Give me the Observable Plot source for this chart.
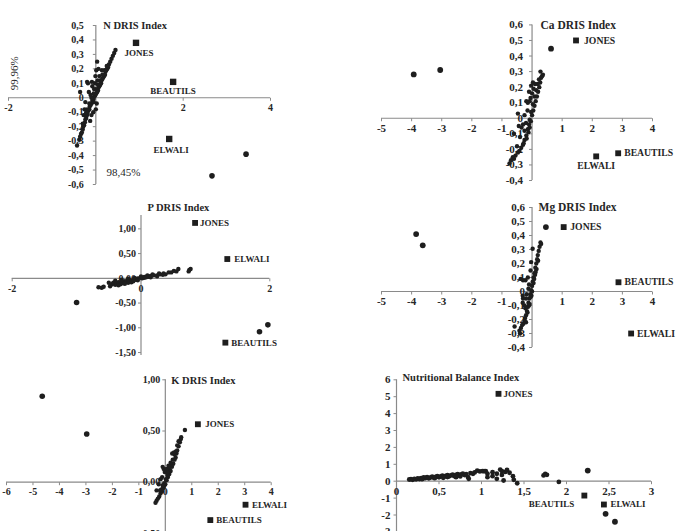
<!DOCTYPE html>
<html><head><meta charset="utf-8">
<script src="https://cdn.jsdelivr.net/npm/d3@7"></script>
<script src="https://cdn.jsdelivr.net/npm/@observablehq/plot@0.6"></script>
<style>
body{margin:0;background:#fff}
#chart{position:relative;width:682px;height:531px;overflow:hidden;background:#fff}
</style>
</head><body><div id="chart"></div>
<script>
// ---------- DATA ----------
const methods = ["JONES", "BEAUTILS", "ELWALI"];

// N DRIS Index
const nXTicks = [-2, 2, 4];
const nYTicks = [0.5, 0.4, 0.3, 0.2, 0.1, 0, -0.1, -0.2, -0.3, -0.4, -0.5, -0.6];
const nMethodX = [0.92, 1.77, 1.68];
const nMethodY = [0.38, 0.11, -0.285];
const nOutliers = [[2.66, -0.54], [3.44, -0.39]];
const nPoints = [[-0.43,-0.33],[-0.38,-0.29],[-0.36,-0.27],[-0.34,-0.25],[-0.32,-0.24],[-0.30,-0.22],[-0.29,-0.20],[-0.27,-0.19],[-0.25,-0.17],[-0.24,-0.15],[-0.22,-0.14],[-0.20,-0.12],[-0.19,-0.11],[-0.17,-0.09],[-0.15,-0.08],[-0.14,-0.06],[-0.12,-0.05],[-0.10,-0.04],[-0.08,-0.02],[-0.06,-0.01],[-0.05,0.00],[-0.03,0.01],[-0.01,0.02],[0.01,0.03],[0.03,0.04],[0.05,0.05],[0.06,0.07],[0.08,0.08],[0.10,0.09],[0.12,0.10],[0.13,0.12],[0.15,0.13],[0.17,0.14],[0.19,0.15],[0.21,0.16],[0.22,0.18],[0.24,0.19],[0.26,0.20],[0.28,0.21],[0.30,0.23],[0.33,0.25],[0.36,0.27],[0.39,0.29],[0.42,0.31],[0.45,0.33],
[-0.20,-0.08],[-0.15,-0.04],[-0.10,0.00],[-0.05,0.03],[0.00,0.06],[0.05,0.09],[0.10,0.12],[0.15,0.16],[0.20,0.19],[0.25,0.22],[-0.25,-0.12],[-0.30,-0.18],
[0.03,0.25],[-0.20,0.11],[-0.09,0.11],[0.01,0.19],[0.14,0.19],[-0.36,0.04],[-0.16,0.04],[-0.24,-0.03],[-0.26,-0.08],[-0.05,-0.03],[-0.13,-0.16],[-0.18,0.10],[-0.12,0.02],[-0.22,-0.10],[-0.04,0.06],[0.06,0.20],[-0.01,0.15],[0.02,-0.04],[0.00,-0.08],[-0.06,-0.10],[-0.28,-0.12],[-0.10,-0.12],[0.08,0.15],[-0.08,0.08],[-0.02,0.10],[0.04,0.12]];
const nNotes = ["99,96%", "98,45%"];
const nNoteX = [-1.87, 0.63];
const nNoteY = [0.17, -0.52];

// Ca DRIS Index
const caXTicks = [-5, -4, -3, -2, -1, 1, 2, 3, 4];
const caYTicks = [0.6, 0.5, 0.4, 0.3, 0.2, 0.1, 0, -0.1, -0.2, -0.3, -0.4];
const caMethodX = [1.46, 2.86, 2.13];
const caMethodY = [0.50, -0.225, -0.245];
const caOutliers = [[-3.93, 0.282], [-3.05, 0.31], [0.63, 0.447]];
const caPoints = [[0.28,0.30],[0.36,0.28],[0.33,0.27],[0.30,0.26],[0.23,0.25],[0.27,0.23],[0.19,0.22],[0.24,0.20],[0.14,0.18],[0.20,0.17],[0.08,0.14],[0.16,0.14],[0.12,0.11],[0.03,0.09],[0.08,0.08],[0.04,0.05],[-0.03,0.04],[0.00,0.02],[-0.08,-0.01],[-0.04,-0.02],[-0.10,-0.04],[-0.14,-0.07],[-0.08,-0.06],[-0.19,-0.11],[-0.12,-0.09],[-0.25,-0.14],[-0.18,-0.13],[-0.30,-0.17],[-0.36,-0.19],[-0.28,-0.16],[-0.42,-0.21],[-0.47,-0.22],[-0.55,-0.24],[-0.64,-0.25],[-0.70,-0.27],[-0.75,-0.29],[-0.60,-0.26],
[-0.03,0.21],[0.03,0.23],[-0.08,0.11],[-0.19,0.11],[-0.14,0.10],[-0.25,0.02],[-0.47,0.03],[-0.60,-0.10],[-0.44,-0.05],[-0.35,-0.06],[-0.30,-0.04],[-0.20,-0.03],[-0.15,0.05],[-0.05,0.13],[0.00,0.16],[-0.10,0.17],[-0.40,-0.12],[-0.50,-0.18],[-0.25,-0.08],[0.05,0.19],[0.10,0.22]];

// P DRIS Index
const pXTicks = [-2, 0, 2];
const pYTicks = [1, 0.5, 0, -0.5, -1, -1.5];
const pMethodX = [0.84, 1.31, 1.34];
const pMethodY = [1.12, -1.30, 0.39];
const pOutliers = [[-1.0, -0.49], [1.84, -1.08], [1.97, -0.94]];
const pPoints = [[-0.66,-0.18],[-0.61,-0.19],[-0.58,-0.17],[-0.50,-0.09],[-0.48,-0.16],[-0.45,-0.12],[-0.43,-0.09],[-0.40,-0.13],[-0.38,-0.10],[-0.35,-0.08],[-0.32,-0.12],[-0.30,-0.07],[-0.28,-0.10],[-0.25,-0.06],[-0.22,-0.06],[-0.20,-0.09],[-0.18,-0.04],[-0.15,-0.05],[-0.11,-0.02],[-0.08,-0.03],[-0.05,0.00],[-0.01,0.01],[0.02,0.00],[0.05,0.03],[0.09,0.04],[0.12,0.03],[0.15,0.05],[0.20,0.06],[0.25,0.06],[0.30,0.08],[0.34,0.07],[0.38,0.08],[0.43,0.12],[0.47,0.12],[0.51,0.15],[0.55,0.14],[0.58,0.19],[0.74,0.14],[0.77,0.19],[0.75,0.17],
[-0.40,-0.05],[-0.30,-0.03],[-0.20,-0.01],[-0.10,0.01],[0.00,0.04],[0.10,0.06],[-0.35,-0.14],[-0.25,-0.11],[-0.15,-0.08],[-0.05,-0.04],[0.05,0.01],[0.15,0.02],[0.25,0.04],[-0.12,-0.06],[0.08,0.02],[0.18,0.08],[0.28,0.10],[0.35,0.10]];

// Mg DRIS Index
const mgXTicks = [-5, -4, -3, -2, -1, 1, 2, 3, 4];
const mgYTicks = [0.6, 0.5, 0.4, 0.3, 0.2, 0.1, 0, -0.1, -0.2, -0.3, -0.4];
const mgMethodX = [1.05, 2.87, 3.29];
const mgMethodY = [0.46, 0.066, -0.30];
const mgOutliers = [[-3.85, 0.41], [-3.63, 0.33], [0.46, 0.46]];
const mgPoints = [[0.30,0.34],[0.28,0.35],[0.25,0.32],[0.22,0.29],[0.19,0.26],[0.17,0.23],[0.14,0.20],[0.11,0.17],[0.08,0.13],[0.05,0.10],[0.02,0.07],[0.00,0.04],[-0.03,0.01],[-0.06,-0.02],[-0.09,-0.05],[-0.12,-0.08],[-0.14,-0.11],[-0.17,-0.14],[-0.20,-0.17],[-0.23,-0.19],[-0.25,-0.21],[-0.29,-0.23],[-0.33,-0.24],[-0.37,-0.26],[-0.42,-0.28],[-0.40,-0.30],
[0.20,0.22],[0.15,0.16],[0.10,0.12],[0.05,0.06],[0.00,0.00],[-0.05,-0.04],[-0.10,-0.10],[-0.15,-0.15],[0.12,0.14],[0.07,0.09],[-0.02,-0.03],[-0.08,-0.09],[-0.20,-0.22],
[0.02,0.305],[-0.03,0.21],[-0.14,0.10],[-0.22,0.08],[-0.31,-0.03],[-0.31,-0.08],[-0.58,-0.25],[-0.30,-0.05],[-0.20,-0.05],[-0.25,-0.10],[-0.10,0.05],[-0.05,0.15],[-0.18,-0.02],[-0.12,0.02],[-0.22,-0.12],[-0.38,0.09],[-0.30,0.08]];

// K DRIS Index
const kXTicks = [-6, -5, -4, -3, -2, -1, 0, 1, 2, 3, 4];
const kYTicks = [1, 0.5, 0, -0.5];
const kMethodX = [1.23, 1.70, 3.03];
const kMethodY = [0.566, -0.37, -0.22];
const kOutliers = [[-4.65, 0.84], [-2.97, 0.47]];
const kPoints = [[0.74,0.51],[0.60,0.44],[0.58,0.42],[0.55,0.39],[0.50,0.35],[0.45,0.31],[0.42,0.28],[0.39,0.24],[0.35,0.22],[0.30,0.18],[0.25,0.15],[0.20,0.11],[0.15,0.08],[0.10,0.05],[0.05,0.02],[0.00,-0.02],[-0.05,-0.04],[-0.09,-0.06],[-0.13,-0.09],[-0.18,-0.11],[-0.23,-0.14],[-0.28,-0.16],[-0.33,-0.18],[-0.37,-0.20],
[0.50,0.40],[0.40,0.30],[0.35,0.27],[0.28,0.22],[0.22,0.16],[0.15,0.12],[0.08,0.07],[0.02,0.03],[-0.04,-0.01],[-0.10,-0.03],[-0.15,-0.07],[0.45,0.36],[0.20,0.19],[0.10,0.10],[-0.20,-0.08],
[-0.06,0.13],[-0.18,0.03],[-0.12,0.05],[-0.33,-0.08],[0.26,0.28],[0.33,0.29],[0.15,0.14],[-0.10,0.15],[0.05,0.13],[-0.02,0.10],[-0.25,-0.02],[0.12,0.16]];

// Nutritional Balance Index
const nbiXTicks = [0, 0.5, 1, 1.5, 2, 2.5, 3];
const nbiYTicks = [6, 5, 4, 3, 2, 1, 0, -1, -2, -3];
const nbiMethodX = [1.20, 2.21, 2.44];
const nbiMethodY = [5.17, -0.85, -1.38];
const nbiOutliers = [[2.25, 0.63], [2.46, -1.93], [2.57, -2.40]];
const nbiPoints = [[0.15,0.10],[0.17,0.12],[0.19,0.08],[0.21,0.14],[0.23,0.11],[0.25,0.16],[0.27,0.13],[0.29,0.18],[0.31,0.15],[0.32,0.22],[0.34,0.19],[0.36,0.24],[0.38,0.17],[0.40,0.22],[0.42,0.27],[0.44,0.20],[0.46,0.25],[0.48,0.30],[0.50,0.23],[0.52,0.28],[0.54,0.33],[0.56,0.26],[0.58,0.31],[0.60,0.36],[0.62,0.29],[0.64,0.34],[0.66,0.39],[0.68,0.30],[0.70,0.37],[0.72,0.42],[0.74,0.33],[0.76,0.40],[0.78,0.45],[0.80,0.36],[0.82,0.42],[0.84,0.25],[0.85,0.14],[0.87,0.48],[0.90,0.44],[0.92,0.52],[0.95,0.63],[0.98,0.58],[1.01,0.60],[1.03,0.59],[1.05,0.60],[1.07,0.44],[1.07,0.24],[1.13,0.53],[1.13,0.30],[1.18,0.14],[1.18,0.44],[1.22,0.69],[1.24,0.60],[1.24,0.37],[1.26,0.04],[1.28,0.55],[1.30,0.67],[1.33,0.50],[1.37,0.30],[1.38,0.08],[1.42,-0.12],[1.73,0.34],[1.75,0.43],[1.77,0.38],[1.91,-0.04],
[0.30,0.12],[0.45,0.18],[0.60,0.25],[0.75,0.28],[0.55,0.20],[0.70,0.24]];

// ---------- RENDER ----------
const fmt1 = d => d === 0 ? "0" : d.toFixed(1).replace(".", ",");
const fmt2 = d => d.toFixed(2).replace(".", ",");
const fmtG = d => String(d).replace(".", ",");
const SERIF = "'Liberation Serif', 'Times New Roman', serif";
const AXIS = "#8a8a8a", INK = "#1e1e1e", TXT = "#262626";
const tickLeft = {draw(ctx) { ctx.moveTo(0, 0); ctx.lineTo(-3, 0); }};
const tickDown = {draw(ctx) { ctx.moveTo(0, 0); ctx.lineTo(0, 3); }};

const panels = [
  {title: "N DRIS Index", pts: nPoints, out: nOutliers, mx: nMethodX, my: nMethodY,
   xDomain: [-2, 4], xRange: [8, 270], yDomain: [-0.6, 0.5], yRange: [184, 25],
   xTicks: nXTicks, yTicks: nYTicks, xFmt: fmtG, yFmt: fmt1, fs: 10, lfs: 9, tfs: 10.5, gap: 12,
   tdx: 7.5, tdy: 0, r: 2.2, ro: 2.8, sq: 3.6,
   lab: {JONES: [3, 10, "middle"], BEAUTILS: [0, 9, "middle"], ELWALI: [2, 11, "middle"]}},
  {title: "Ca DRIS Index", pts: caPoints, out: caOutliers, mx: caMethodX, my: caMethodY,
   xDomain: [-5, 4], xRange: [381, 652], yDomain: [-0.4, 0.6], yRange: [180, 24.4],
   xTicks: caXTicks, yTicks: caYTicks, xFmt: fmtG, yFmt: fmt1, fs: 11, lfs: 9.7, tfs: 11.5, gap: 9,
   tdx: 8.5, tdy: 0, r: 2.2, ro: 2.9, sq: 3.3,
   lab: {JONES: [8, 0, "start"], BEAUTILS: [6, 0, "start"], ELWALI: [0, 10, "middle"]}},
  {title: "P DRIS Index", pts: pPoints, out: pOutliers, mx: pMethodX, my: pMethodY,
   xDomain: [-2, 2], xRange: [11.7, 269.3], yDomain: [-1.56, 1.27], yRange: [355, 215],
   xTicks: pXTicks, yTicks: pYTicks, xFmt: fmtG, yFmt: fmt2, fs: 10, lfs: 9, tfs: 10.5, gap: 5,
   tdx: 6.5, tdy: -8, r: 2.2, ro: 2.8, sq: 3.3,
   lab: {JONES: [5, 0, "start"], BEAUTILS: [6, 0, "start"], ELWALI: [7, 0, "start"]}},
  {title: "Mg DRIS Index", pts: mgPoints, out: mgOutliers, mx: mgMethodX, my: mgMethodY,
   xDomain: [-5, 4], xRange: [381, 652], yDomain: [-0.4, 0.6], yRange: [347, 207],
   xTicks: mgXTicks, yTicks: mgYTicks, xFmt: fmtG, yFmt: fmt1, fs: 11, lfs: 9.7, tfs: 11.5, gap: 7,
   tdx: 6.5, tdy: 0, r: 2.2, ro: 2.9, sq: 3.3,
   lab: {JONES: [6.6, 0, "start"], BEAUTILS: [6, 0, "start"], ELWALI: [6, 0, "start"]}},
  {title: "K DRIS Index", pts: kPoints, out: kOutliers, mx: kMethodX, my: kMethodY,
   xDomain: [-6, 4], xRange: [6, 270.7], yDomain: [-0.5, 1], yRange: [532.9, 379.3],
   xTicks: kXTicks, yTicks: kYTicks, xFmt: fmtG, yFmt: fmt2, fs: 10, lfs: 9, tfs: 10.5, gap: 5,
   tdx: 6, tdy: 1, r: 2.2, ro: 2.8, sq: 3.3,
   lab: {JONES: [7.3, 0, "start"], BEAUTILS: [6, 0, "start"], ELWALI: [6.4, 0, "start"]}},
  {title: "Nutritional Balance Index", pts: nbiPoints, out: nbiOutliers, mx: nbiMethodX, my: nbiMethodY,
   xDomain: [0, 3], xRange: [396, 651], yDomain: [-3, 6], yRange: [531.4, 379.3],
   xTicks: nbiXTicks, yTicks: nbiYTicks, xFmt: fmtG, yFmt: fmtG, fs: 11, lfs: 9, tfs: 10.5, gap: 6,
   tdx: 6, tdy: -2, r: 2.4, ro: 2.9, sq: 3.3,
   lab: {JONES: [5, 0, "start"], BEAUTILS: [-10, 9, "end"], ELWALI: [6.5, 0, "start"]}}
];

const chart = document.getElementById("chart");

panels.forEach((p, i) => {
  const marks = [
    Plot.ruleY([0], {x1: p.xDomain[0], x2: p.xDomain[1], stroke: AXIS, strokeWidth: 1.2}),
    Plot.ruleX([0], {y1: p.yDomain[0], y2: p.yDomain[1], stroke: AXIS, strokeWidth: 1.2}),
    Plot.dot(p.yTicks, {x: 0, y: d => d, symbol: tickLeft, stroke: AXIS, fill: "none", strokeWidth: 1}),
    Plot.dot(p.xTicks, {x: d => d, y: 0, symbol: tickDown, stroke: AXIS, fill: "none", strokeWidth: 1}),
    Plot.text(p.yTicks, {x: 0, y: d => d, text: p.yFmt, textAnchor: "end", dx: -p.gap,
      fontFamily: SERIF, fontWeight: "bold", fontSize: p.fs, fill: TXT}),
    Plot.text(p.xTicks, {x: d => d, y: 0, text: p.xFmt, dy: 10,
      fontFamily: SERIF, fontWeight: "bold", fontSize: p.fs, fill: TXT}),
    Plot.text([p.title], {x: 0, y: p.yDomain[1], text: d => d, textAnchor: "start", dx: p.tdx, dy: p.tdy,
      fontFamily: SERIF, fontWeight: "bold", fontSize: p.tfs, fill: TXT}),
    Plot.dot(p.pts, {x: d => d[0], y: d => d[1], r: p.r, fill: INK}),
    Plot.dot(p.out, {x: d => d[0], y: d => d[1], r: p.ro, fill: INK}),
    Plot.dot(methods, {x: (d, j) => p.mx[j], y: (d, j) => p.my[j], symbol: "square", r: p.sq, fill: INK})
  ];
  methods.forEach((m, j) => {
    const [dx, dy, anchor] = p.lab[m];
    marks.push(Plot.text([m], {x: p.mx[j], y: p.my[j], text: d => d, dx, dy, textAnchor: anchor,
      fontFamily: SERIF, fontWeight: "bold", fontSize: p.lfs, fill: TXT}));
  });
  if (i === 0) {
    marks.push(Plot.text([nNotes[0]], {x: nNoteX[0], y: nNoteY[0], text: d => d, rotate: -90,
      fontFamily: SERIF, fontSize: 11, fill: TXT}));
    marks.push(Plot.text([nNotes[1]], {x: nNoteX[1], y: nNoteY[1], text: d => d,
      fontFamily: SERIF, fontSize: 11, fill: TXT}));
  }
  const svg = Plot.plot({
    width: 682, height: 531,
    margin: 0,
    x: {type: "linear", domain: p.xDomain, range: p.xRange, axis: null},
    y: {type: "linear", domain: p.yDomain, range: p.yRange, axis: null},
    style: {position: "absolute", left: "0px", top: "0px", background: "transparent", overflow: "visible"},
    marks
  });
  chart.appendChild(svg);
});
</script>
</body></html>
